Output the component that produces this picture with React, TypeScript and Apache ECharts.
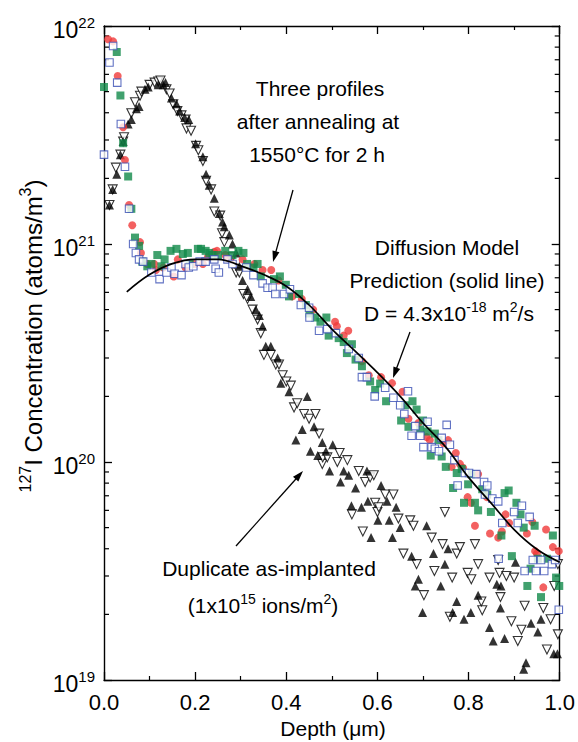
import React, { useEffect, useRef } from "react";
import * as echarts from "echarts";

const FONT = "Liberation Sans, Arial, Helvetica, sans-serif";

const xTickLabels = ["0.0", "0.2", "0.4", "0.6", "0.8", "1.0"];
const decades = [1e19, 1e20, 1e21];
const minorMultipliers = [2, 3, 4, 5, 6, 7, 8, 9];

// Annealed profiles (1550 C, 2 h)
const annealedRed: number[][] = [
  [0.009, 8.7e21], [0.02, 8.5e21], [0.03, 5.9e21], [0.042, 3.43e21], [0.046, 2.43e21], [0.055, 1.51e21],
  [0.062, 1.22e21], [0.079, 1.02e21], [0.081, 9.1e20], [0.095, 8.1e20], [0.11, 8.1e20], [0.114, 7.6e20],
  [0.13, 7.8e20], [0.153, 7.1e20], [0.162, 8.5e20], [0.179, 7.8e20], [0.199, 8.1e20], [0.217, 8.1e20],
  [0.228, 8.7e20], [0.242, 9.2e20], [0.248, 9.3e20], [0.266, 8.9e20], [0.277, 8.5e20], [0.304, 8.5e20],
  [0.33, 8.1e20], [0.348, 7.6e20], [0.367, 7.6e20], [0.383, 6.8e20], [0.413, 5.75e20], [0.434, 5.6e20],
  [0.459, 5.0e20], [0.507, 4.4e20], [0.511, 4.2e20], [0.526, 3.8e20], [0.536, 4.0e20], [0.566, 2.9e20],
  [0.581, 2.5e20], [0.608, 2.45e20], [0.632, 2.3e20], [0.655, 2.1e20], [0.668, 1.58e20], [0.69, 1.51e20],
  [0.708, 1.3e20], [0.715, 1.26e20], [0.745, 1.22e20], [0.755, 1.26e20], [0.763, 9.5e19], [0.772, 1.1e20],
  [0.781, 9.8e19], [0.788, 9.4e19], [0.798, 6.9e19], [0.805, 6.5e19], [0.814, 5.1e19], [0.821, 8.8e19],
  [0.84, 6.9e19], [0.847, 4.7e19], [0.865, 4.5e19], [0.873, 4.8e19], [0.881, 5.75e19], [0.889, 5.25e19],
  [0.928, 4.7e19], [0.94, 5.3e19], [0.946, 3.9e19], [0.95, 3.8e19], [0.964, 2.66e19], [0.97, 4.9e19],
  [0.985, 4.07e19], [0.998, 3.9e19],
];

const annealedGreen: number[][] = [
  [0.0, 5.25e21], [0.028, 7.6e21], [0.036, 4.8e21], [0.042, 2.9e21], [0.053, 2.04e21], [0.06, 1.45e21],
  [0.068, 1.07e21], [0.077, 9.8e20], [0.084, 8.3e20], [0.095, 7.9e20], [0.104, 8.1e20], [0.117, 8.9e20],
  [0.126, 7.9e20], [0.133, 8.5e20], [0.146, 9.3e20], [0.159, 9.5e20], [0.173, 9.0e20], [0.184, 9.1e20],
  [0.188, 8.1e20], [0.206, 9.5e20], [0.213, 9.5e20], [0.223, 9.3e20], [0.231, 9.1e20], [0.238, 8.9e20],
  [0.25, 8.9e20], [0.266, 9.3e20], [0.282, 8.9e20], [0.295, 9.3e20], [0.306, 9.1e20], [0.314, 8.1e20],
  [0.328, 7.8e20], [0.337, 8.1e20], [0.344, 7.1e20], [0.373, 6.9e20], [0.386, 7.1e20], [0.399, 6.5e20],
  [0.406, 5.75e20], [0.428, 5.9e20], [0.443, 5.25e20], [0.451, 4.8e20], [0.463, 4.6e20], [0.475, 4.4e20],
  [0.488, 4.6e20], [0.493, 3.8e20], [0.515, 3.7e20], [0.526, 3.55e20], [0.533, 3.16e20], [0.544, 3.47e20],
  [0.552, 2.95e20], [0.566, 2.75e20], [0.584, 2.34e20], [0.595, 2.14e20], [0.606, 2.29e20], [0.619, 1.9e20],
  [0.652, 1.55e20], [0.661, 1.82e20], [0.668, 1.45e20], [0.677, 1.9e20], [0.686, 1.74e20], [0.694, 1.41e20],
  [0.7, 1.55e20], [0.71, 1.38e20], [0.717, 1.07e20], [0.726, 1.35e20], [0.734, 1.26e20], [0.741, 1.06e20],
  [0.75, 9.5e19], [0.766, 7.6e19], [0.774, 8.9e19], [0.785, 9.3e19], [0.79, 6.5e19], [0.799, 7.9e19],
  [0.806, 8.8e19], [0.814, 6.5e19], [0.821, 6.0e19], [0.83, 7.5e19], [0.841, 7.1e19], [0.849, 5.9e19],
  [0.872, 4.6e19], [0.879, 7.2e19], [0.888, 7.4e19], [0.895, 3.7e19], [0.905, 6.5e19], [0.914, 5.75e19],
  [0.921, 5.0e19], [0.929, 2.7e19], [0.936, 3.24e19], [0.945, 5.1e19], [0.952, 3.6e19], [0.959, 2.4e19],
  [0.972, 3.6e19], [0.985, 4.6e19], [0.992, 2.95e19], [0.999, 2.7e19],
];

const annealedBlue: number[][] = [
  [0.0, 2.57e21], [0.012, 6.8e21], [0.02, 8.1e21], [0.029, 5.5e21], [0.037, 3.55e21], [0.046, 2.26e21],
  [0.055, 1.45e21], [0.064, 1.0e21], [0.07, 9.1e20], [0.077, 8.5e20], [0.086, 8.3e20], [0.104, 7.4e20],
  [0.122, 6.9e20], [0.137, 7.4e20], [0.148, 7.8e20], [0.155, 7.3e20], [0.17, 7.2e20], [0.179, 8.1e20],
  [0.186, 7.8e20], [0.196, 7.9e20], [0.21, 8.3e20], [0.223, 8.3e20], [0.242, 8.5e20], [0.245, 7.7e20],
  [0.252, 7.4e20], [0.271, 8.5e20], [0.282, 8.1e20], [0.312, 7.8e20], [0.328, 7.2e20], [0.348, 6.6e20],
  [0.359, 6.3e20], [0.37, 6.3e20], [0.376, 5.9e20], [0.395, 5.9e20], [0.408, 6.2e20], [0.432, 5.25e20],
  [0.45, 5.1e20], [0.451, 4.6e20], [0.472, 4.0e20], [0.49, 4.07e20], [0.509, 3.9e20], [0.537, 3.3e20],
  [0.559, 3.0e20], [0.566, 2.45e20], [0.577, 2.45e20], [0.594, 2.0e20], [0.617, 2.19e20], [0.635, 1.97e20],
  [0.65, 1.82e20], [0.659, 1.66e20], [0.667, 2.11e20], [0.675, 1.32e20], [0.683, 1.46e20], [0.694, 1.32e20],
  [0.701, 1.17e20], [0.71, 1.53e20], [0.719, 1.17e20], [0.726, 1.15e20], [0.735, 1.12e20], [0.741, 1.29e20],
  [0.752, 1.48e20], [0.759, 1.2e20], [0.769, 1.02e20], [0.776, 7.8e19], [0.792, 8.9e19], [0.801, 8.9e19],
  [0.817, 8.8e19], [0.834, 8.1e19], [0.841, 7.8e19], [0.836, 7.1e19], [0.852, 6.8e19], [0.865, 6.6e19],
  [0.866, 3.6e19], [0.874, 5.25e19], [0.9, 5.9e19], [0.908, 5.25e19], [0.917, 6.3e19], [0.923, 3.16e19],
  [0.934, 5.6e19], [0.941, 3.55e19], [0.959, 3.55e19], [0.948, 3.16e19], [0.966, 3.16e19], [0.983, 3.4e19],
  [0.99, 3.55e19], [0.998, 2.1e19],
];

// Duplicate as-implanted profiles
const implantedFilled: number[][] = [
  [0.012, 1.51e21], [0.019, 1.78e21], [0.028, 2.09e21], [0.036, 2.57e21], [0.042, 2.95e21], [0.053, 3.55e21],
  [0.06, 3.72e21], [0.071, 4.17e21], [0.077, 4.27e21], [0.09, 5.13e21], [0.097, 5.25e21], [0.119, 5.37e21],
  [0.13, 5.37e21], [0.135, 5.5e21], [0.148, 4.68e21], [0.159, 4.4e21], [0.166, 4.07e21], [0.177, 3.8e21],
  [0.186, 3.72e21], [0.201, 2.88e21], [0.217, 2.51e21], [0.224, 2.09e21], [0.231, 1.86e21], [0.242, 1.62e21],
  [0.253, 1.38e21], [0.26, 1.26e21], [0.264, 1.2e21], [0.275, 1.1e21], [0.282, 1.0e21], [0.29, 9.1e20],
  [0.297, 7.9e20], [0.304, 6.8e20], [0.315, 6.2e20], [0.322, 5.75e20], [0.333, 5.0e20], [0.341, 4.7e20],
  [0.348, 4.2e20], [0.355, 3.4e20], [0.366, 3.4e20], [0.381, 3.0e20], [0.388, 2.3e20], [0.406, 2.1e20],
  [0.421, 1.26e20], [0.435, 1.41e20], [0.446, 2.0e20], [0.453, 1.12e20], [0.461, 1.45e20], [0.469, 1.07e20],
  [0.479, 1.23e20], [0.487, 1.12e20], [0.495, 9.1e19], [0.502, 1.2e20], [0.519, 8.1e19], [0.526, 9.1e19],
  [0.537, 8.7e19], [0.543, 6.3e19], [0.552, 7.6e19], [0.565, 6.2e19], [0.577, 9.1e19], [0.579, 6.6e19],
  [0.586, 4.5e19], [0.601, 5.4e19], [0.608, 7.8e19], [0.621, 6.6e19], [0.626, 5.4e19], [0.633, 4.5e19],
  [0.641, 6.2e19], [0.65, 5.0e19], [0.675, 3.7e19], [0.683, 2.7e19], [0.69, 2.9e19], [0.699, 2.04e19],
  [0.708, 5.1e19], [0.723, 3.8e19], [0.739, 2.7e19], [0.748, 3.4e19], [0.755, 4.0e19], [0.765, 2.04e19],
  [0.774, 2.29e19], [0.79, 1.9e19], [0.805, 2.04e19], [0.821, 2.45e19], [0.846, 1.74e19], [0.854, 1.51e19],
  [0.862, 2.75e19], [0.87, 2.14e19], [0.871, 2.7e19], [0.879, 1.55e19], [0.903, 3.47e19], [0.921, 1.12e19],
  [0.926, 1.2e19], [0.937, 1.82e19], [0.952, 1.66e19], [0.959, 1.9e19], [0.987, 1.32e19], [0.995, 1.32e19],
];

const implantedOpen: number[][] = [
  [0.012, 1.51e21], [0.019, 1.78e21], [0.026, 2.24e21], [0.036, 2.57e21], [0.042, 2.95e21], [0.044, 3.09e21],
  [0.06, 3.98e21], [0.068, 4.47e21], [0.079, 4.79e21], [0.082, 5.0e21], [0.1, 5.37e21], [0.111, 5.5e21],
  [0.119, 5.56e21], [0.124, 5.62e21], [0.137, 5.13e21], [0.144, 4.9e21], [0.152, 4.37e21], [0.161, 4.07e21],
  [0.17, 3.89e21], [0.179, 3.72e21], [0.181, 3.39e21], [0.191, 3.31e21], [0.202, 2.82e21], [0.207, 2.69e21],
  [0.217, 2.4e21], [0.224, 1.95e21], [0.235, 1.78e21], [0.242, 1.41e21], [0.255, 1.35e21], [0.259, 1.12e21],
  [0.264, 1.02e21], [0.282, 8.7e20], [0.29, 7.4e20], [0.297, 7.4e20], [0.306, 5.9e20], [0.315, 5.6e20],
  [0.326, 5.0e20], [0.337, 4.5e20], [0.344, 3.9e20], [0.351, 3.1e20], [0.366, 3.1e20], [0.377, 2.8e20],
  [0.384, 2.8e20], [0.392, 2.5e20], [0.4, 2.34e20], [0.41, 2.24e20], [0.417, 1.78e20], [0.424, 1.86e20],
  [0.439, 1.66e20], [0.45, 1.58e20], [0.464, 1.66e20], [0.472, 1.35e20], [0.479, 9.8e19], [0.48, 1.05e20],
  [0.49, 1.05e20], [0.512, 1.0e20], [0.517, 1.1e20], [0.534, 1.02e20], [0.544, 5.75e19], [0.559, 9.1e19],
  [0.568, 4.8e19], [0.573, 8.1e19], [0.584, 8.5e19], [0.592, 8.7e19], [0.6, 5.9e19], [0.595, 6.5e19],
  [0.603, 6.2e19], [0.617, 7.1e19], [0.635, 7.1e19], [0.646, 5.5e19], [0.657, 3.8e19], [0.672, 5.4e19],
  [0.679, 5.1e19], [0.686, 3.4e19], [0.702, 2.45e19], [0.719, 4.5e19], [0.725, 3.16e19], [0.743, 4.2e19],
  [0.748, 5.9e19], [0.759, 1.95e19], [0.764, 2.95e19], [0.774, 3.8e19], [0.781, 4.07e19], [0.798, 3.1e19],
  [0.806, 2.9e19], [0.814, 4.2e19], [0.821, 3.4e19], [0.83, 2.09e19], [0.828, 2.29e19], [0.846, 2.95e19],
  [0.865, 3.55e19], [0.87, 2.4e19], [0.868, 3.1e19], [0.883, 3.0e19], [0.894, 1.86e19], [0.9, 2.95e19],
  [0.908, 1.51e19], [0.916, 1.7e19], [0.923, 2.19e19], [0.964, 2.14e19], [0.972, 1.38e19], [0.98, 1.9e19],
  [0.996, 1.62e19], [0.996, 3.4e19], [0.988, 2.7e19],
];

// Diffusion model prediction (solid line)
const modelDepth = [0.05, 0.1, 0.15, 0.2, 0.25, 0.3, 0.35, 0.4, 0.45, 0.5, 0.55, 0.6, 0.65, 0.7, 0.75, 0.8, 0.85, 0.9, 0.95, 1.0];
const modelConc = [6.03e20, 7.24e20, 8.13e20, 8.51e20, 8.51e20, 7.94e20, 7.24e20, 6.4e20, 5.25e20, 4.07e20, 3.24e20, 2.57e20, 2.0e20, 1.51e20, 1.17e20, 8.5e19, 6.46e19, 4.9e19, 3.98e19, 3.47e19];

const makeRich = (big: number, small: number, pad: number) => ({
  n: { fontSize: big, fontFamily: FONT, color: "#000", lineHeight: big, padding: [pad, 0, 0, 0] },
  s: { fontSize: small, fontFamily: FONT, color: "#000", lineHeight: small, verticalAlign: "top" },
});
const supRich = makeRich(21, 14, 7);
const axisRich = makeRich(23, 15, 8);
const titleRich = makeRich(24, 16, 8);

function arrow(x1: number, y1: number, x2: number, y2: number) {
  const dx = x2 - x1;
  const dy = y2 - y1;
  const len = Math.sqrt(dx * dx + dy * dy);
  const ux = dx / len;
  const uy = dy / len;
  const hl = 11;
  const hw = 3.6;
  const bx = x2 - ux * hl;
  const by = y2 - uy * hl;
  return [
    { type: "line", shape: { x1, y1, x2: bx + ux * 2, y2: by + uy * 2 }, style: { stroke: "#000", lineWidth: 1.3 } },
    {
      type: "polygon",
      shape: { points: [[x2, y2], [bx - uy * hw, by + ux * hw], [bx + uy * hw, by - ux * hw]] },
      style: { fill: "#000" },
    },
  ];
}

function text(x: number, y: number, t: string, rich = false) {
  return {
    type: "text",
    x,
    y,
    style: rich
      ? { text: t, rich: supRich, align: "center", verticalAlign: "middle", fill: "#000" }
      : { text: t, font: `21px ${FONT}`, align: "center", verticalAlign: "middle", fill: "#000" },
  };
}

export default function App() {
  const ref = useRef<HTMLDivElement>(null);

  useEffect(() => {
    if (!ref.current) return;
    const chart = echarts.init(ref.current, undefined, { renderer: "svg" });

    const minorTickValues: number[] = [];
    decades.forEach((d) => minorMultipliers.forEach((m) => minorTickValues.push(d * m)));

    const xAxisBase = {
      type: "value",
      min: 0,
      max: 1,
      interval: 0.2,
      splitLine: { show: false },
      axisLine: { show: true, onZero: false, lineStyle: { color: "#000", width: 1.4 } },
      axisTick: { show: true, inside: true, length: 8, lineStyle: { color: "#000", width: 1.3 } },
      minorTick: { show: true, splitNumber: 2, length: 4, lineStyle: { color: "#000", width: 1.2 } },
    };
    const yAxisBase = {
      type: "log",
      logBase: 10,
      min: 1e19,
      max: 1e22,
      splitLine: { show: false },
      axisLine: { show: true, onZero: false, lineStyle: { color: "#000", width: 1.4 } },
      axisTick: { show: true, inside: true, length: 8, lineStyle: { color: "#000", width: 1.3 } },
    };

    const option: any = {
      animation: false,
      backgroundColor: "#fff",
      grid: { left: 104, right: 16, top: 26, bottom: 62, containLabel: false },
      xAxis: [
        {
          ...xAxisBase,
          position: "bottom",
          axisLabel: {
            formatter: (v: number) => xTickLabels[Math.round(v / 0.2)] ?? "",
            fontSize: 22,
            fontFamily: FONT,
            color: "#000",
            margin: 11,
          },
        },
        { ...xAxisBase, position: "top", axisLabel: { show: false } },
      ],
      yAxis: [
        {
          ...yAxisBase,
          position: "left",
          axisLabel: {
            formatter: (v: number) => `{n|10}{s|${Math.round(Math.log10(v))}}`,
            rich: axisRich,
            margin: 9,
          },
        },
        { ...yAxisBase, position: "right", axisLabel: { show: false } },
      ],
      graphic: [
        text(320, 88, "Three profiles"),
        text(318, 121, "after annealing at"),
        text(317, 154, "1550°C for 2 h"),
        text(447, 247, "Diffusion Model"),
        text(447, 280, "Prediction (solid line)"),
        text(449, 310, "{n|D = 4.3x10}{s|-18}{n| m}{s|2}{n|/s}", true),
        text(269, 568, "Duplicate as-implanted"),
        text(263, 602, "{n|(1x10}{s|15}{n| ions/m}{s|2}{n|)}", true),
        text(333, 728, "Depth (μm)"),
        {
          type: "text",
          x: 29,
          y: 336,
          rotation: Math.PI / 2,
          style: {
            text: "{s|127}{n|I Concentration (atoms/m}{s|3}{n|)}",
            rich: titleRich,
            align: "center",
            verticalAlign: "middle",
            fill: "#000",
          },
        },
        ...arrow(293, 190, 273, 262),
        ...arrow(410, 332, 393, 378),
        ...arrow(236, 546, 303, 471),
      ],
      series: [
        {
          type: "custom",
          xAxisIndex: 0,
          yAxisIndex: 0,
          silent: true,
          clip: false,
          z: 1,
          data: minorTickValues.map((v) => [0, v]),
          renderItem: (_p: any, api: any) => {
            const v = api.value(1);
            const l = api.coord([0, v]);
            const r = api.coord([1, v]);
            return {
              type: "group",
              children: [
                { type: "line", shape: { x1: l[0], y1: l[1], x2: l[0] + 5, y2: l[1] }, style: { stroke: "#000", lineWidth: 1.2 } },
                { type: "line", shape: { x1: r[0], y1: r[1], x2: r[0] - 5, y2: r[1] }, style: { stroke: "#000", lineWidth: 1.2 } },
              ],
            };
          },
        },
        {
          name: "as-implanted (open)",
          type: "scatter",
          data: implantedOpen,
          symbol: "triangle",
          symbolRotate: 180,
          symbolSize: 9,
          itemStyle: { color: "#fff", borderColor: "#000", borderWidth: 1.1 },
          z: 2,
        },
        {
          name: "as-implanted (filled)",
          type: "scatter",
          data: implantedFilled,
          symbol: "triangle",
          symbolSize: 9,
          itemStyle: { color: "#000" },
          z: 2,
        },
        {
          name: "annealed red",
          type: "scatter",
          data: annealedRed,
          symbol: "circle",
          symbolSize: 8,
          itemStyle: { color: "#f03a3a" },
          z: 3,
        },
        {
          name: "annealed green",
          type: "scatter",
          data: annealedGreen,
          symbol: "rect",
          symbolSize: 8,
          itemStyle: { color: "#12894a" },
          z: 3,
        },
        {
          name: "annealed blue",
          type: "scatter",
          data: annealedBlue,
          symbol: "rect",
          symbolSize: 7.5,
          itemStyle: { color: "#fff", borderColor: "#3a4fb4", borderWidth: 1.1 },
          z: 3,
        },
        {
          name: "model",
          type: "line",
          data: modelDepth.map((d, i) => [d, modelConc[i]]),
          showSymbol: false,
          smooth: 0.4,
          lineStyle: { color: "#000", width: 1.7 },
          z: 4,
        },
      ],
    };

    chart.setOption(option);
    return () => chart.dispose();
  }, []);

  return <div ref={ref} style={{ position: "absolute", left: 0, top: 0, width: 578, height: 742 }} />;
}
